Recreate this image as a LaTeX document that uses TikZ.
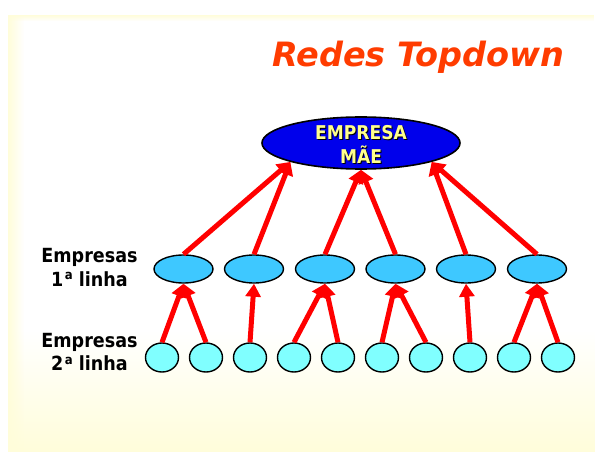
\documentclass[tikz,border=0pt]{standalone}
\usepackage{fontspec}
\setmainfont{Liberation Sans}
\newfontfamily\titlefont{DejaVu Sans}
\newfontfamily\labelfont{DejaVu Sans Condensed}
\usetikzlibrary{arrows.meta,shapes.geometric,fadings}
\definecolor{paneyellow}{RGB}{255,253,218}
\definecolor{titlered}{RGB}{255,60,0}
\definecolor{maeblue}{RGB}{0,0,235}
\definecolor{textyellow}{RGB}{255,255,140}
\definecolor{firstblue}{RGB}{62,200,255}
\definecolor{secondcyan}{RGB}{128,255,255}
\definecolor{linkred}{RGB}{255,0,0}
% raised small "a" for the ordinal
\newcommand{\ordA}{\hspace{0.08em}\raisebox{0.62ex}{\fontsize{13}{13}\selectfont a}}
\tikzset{
  mae/.style={ellipse,draw=black,line width=1.6pt,fill=maeblue,minimum width=198pt,minimum height=52pt,inner sep=0pt},
  firstrow/.style={ellipse,draw=black,line width=1.4pt,fill=firstblue,minimum width=59pt,minimum height=28pt,inner sep=0pt},
  secondrow/.style={ellipse,draw=black,line width=1.4pt,fill=secondcyan,minimum width=33pt,minimum height=29pt,inner sep=0pt},
  link/.style={draw=linkred,line width=5pt,-{Triangle[length=13pt,width=15pt]}},
  rowlabel/.style={align=center,font=\labelfont\bfseries\fontsize{19.5}{23.5}\selectfont,inner sep=0pt},
  maetext/.style={align=center,inner sep=0pt,font=\labelfont\bfseries\fontsize{19}{24}\selectfont}
}
\begin{document}
\begin{tikzpicture}[x=1pt,y=-1pt]
\useasboundingbox (0,0) rectangle (595,452);
% slide panel with its soft yellow edges
\fill[white] (0,0) rectangle (595,452);
\fill[white] (8,15) rectangle (595,452);
\shade[top color=white,bottom color=paneyellow] (8,330) rectangle (595,452);
\fill[paneyellow,path fading=east] (8,15) rectangle (24,452);
\fill[paneyellow,path fading=south] (8,15) rectangle (595,21);

% title
\node[anchor=base west,inner sep=0pt,text=titlered,font=\titlefont\bfseries\itshape\fontsize{33.5}{40}\selectfont] (title) at (272,67) {Redes Topdown};

% parent company
\node[mae] (top) at (361,143) {};
\node[maetext,text=black] (topshadow) at (362,145.5) {EMPRESA\\MÃE};
\node[maetext,text=textyellow] (toptext) at (361,144.5) {EMPRESA\\MÃE};

% first-line companies
\foreach \i/\x in {1/183.5,2/254,3/325,4/395.5,5/466,6/537}
  \node[firstrow] (f\i) at (\x,269) {};

% second-line companies
\foreach \i/\x in {1/162,2/206,3/250,4/294,5/338,6/382,7/426,8/470,9/514,10/558}
  \node[secondrow] (s\i) at (\x,357.5) {};

% row labels
\node[rowlabel] (lab1) at (89.5,267.5) {Empresas\\1\ordA{} linha};
\node[rowlabel] (lab2) at (89.5,352) {Empresas\\2\ordA{} linha};

% links from first line up to the parent
\draw[link] (f1.north) -- (top.195);
\draw[link] (f2.north) -- (top.195);
\draw[link] (f3.north) -- (top.south);
\draw[link] (f4.north) -- (top.south);
\draw[link] (f5.north) -- (top.345);
\draw[link] (f6.north) -- (top.345);

% links from second line up to first line
\draw[link] (s1.north) -- (f1.south);
\draw[link] (s2.north) -- (f1.south);
\draw[link] (s3.north) -- (f2.south);
\draw[link] (s4.north) -- (f3.south);
\draw[link] (s5.north) -- (f3.south);
\draw[link] (s6.north) -- (f4.south);
\draw[link] (s7.north) -- (f4.south);
\draw[link] (s8.north) -- (f5.south);
\draw[link] (s9.north) -- (f6.south);
\draw[link] (s10.north) -- (f6.south);
\end{tikzpicture}
\end{document}
